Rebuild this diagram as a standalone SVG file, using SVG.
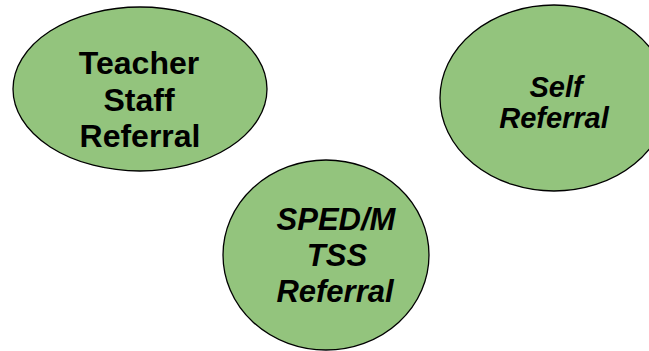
<svg xmlns="http://www.w3.org/2000/svg" width="649" height="351" viewBox="0 0 649 351">
<style>
.n{fill:#93c47d;stroke:#000;stroke-width:1.3}
.t{font-family:"Liberation Sans",Arial,sans-serif;font-weight:bold;fill:#000;text-anchor:middle}
.i{font-style:italic}
</style>
<rect width="649" height="351" fill="#fff"/>
<g id="connectors"></g>
<g id="teacher">
<ellipse class="n" cx="140" cy="89" rx="127" ry="82"/>
<text class="t" font-size="32" x="139" y="74">Teacher</text>
<text class="t" font-size="32" x="139" y="111">Staff</text>
<text class="t" font-size="32" x="140" y="147">Referral</text>
</g>
<g id="self">
<ellipse class="n" cx="554" cy="98" rx="114" ry="93"/>
<text class="t i" font-size="29" x="556" y="97">Self</text>
<text class="t i" font-size="29" x="554" y="128">Referral</text>
</g>
<g id="sped">
<ellipse class="n" cx="326" cy="255" rx="103" ry="95"/>
<text class="t i" font-size="31" x="336" y="230">SPED/M</text>
<text class="t i" font-size="31" x="337" y="266">TSS</text>
<text class="t i" font-size="31" x="335" y="302">Referral</text>
</g>
</svg>
